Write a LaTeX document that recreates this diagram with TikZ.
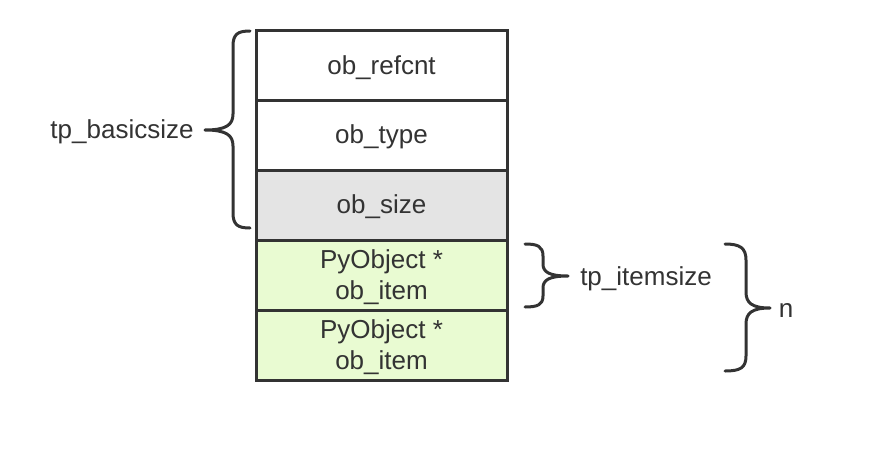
\documentclass[tikz,border=0pt]{standalone}
\usepackage{fontspec}
\setmainfont{Liberation Sans}
\definecolor{edge}{HTML}{333333}
\definecolor{grayfill}{HTML}{E4E4E4}
\definecolor{greenfill}{HTML}{E9FBD2}
\definecolor{txt}{HTML}{333333}
\begin{document}
\begin{tikzpicture}[x=1pt,y=-1pt,
  cell/.style={draw=edge,line width=3pt,minimum width=251pt,minimum height=70pt,inner sep=0pt},
  lbl/.style={font=\fontsize{26}{31}\selectfont,text=txt,inner sep=0pt,align=center},
  bracepath/.style={draw=edge,line width=3pt,line cap=round,line join=round}]
\useasboundingbox (0,0) rectangle (876,458);
\node[cell,fill=white] (c1) at (381.5,65) {};
\node[cell,fill=white] (c2) at (381.5,135) {};
\node[cell,fill=grayfill] (c3) at (381.5,205) {};
\node[cell,fill=greenfill] (c4) at (381.5,275) {};
\node[cell,fill=greenfill] (c5) at (381.5,345) {};
\node[lbl] (t1) at ([yshift=-3pt]c1.center) {ob\_refcnt};
\node[lbl] (t2) at ([yshift=-2pt]c2.center) {ob\_type};
\node[lbl] (t3) at ([yshift=-2pt]c3.center) {ob\_size};
\node[lbl] (t4) at ([yshift=-2pt]c4.center) {PyObject *\\ob\_item};
\node[lbl] (t5) at ([yshift=-2pt]c5.center) {PyObject *\\ob\_item};
\node[lbl] (basic) at (122,132) {tp\_basicsize};
\node[lbl] (item) at (646,279) {tp\_itemsize};
\node[lbl] (n) at (786,311) {n};
% left brace
\coordinate (bt) at (250,31);
\coordinate (bb) at (250,228);
\coordinate (btip) at (205,130);
\draw[bracepath] (bt) .. controls (238,31) and (233,34) .. (233,46) -- (233,114)
  .. controls (233,125) and (226,130) .. (btip)
  .. controls (226,130) and (233,135) .. (233,146) -- (233,213)
  .. controls (233,225) and (238,228) .. (bb);
% tp_itemsize brace
\coordinate (it) at (525,244);
\coordinate (ib) at (525,307);
\coordinate (itip) at (568,276);
\draw[bracepath] (it) .. controls (537,244) and (543,246) .. (543,256) -- (543,264)
  .. controls (543,272) and (549,276) .. (itip)
  .. controls (549,276) and (543,280) .. (543,288) -- (543,296)
  .. controls (543,305) and (537,307) .. (ib);
% n brace
\coordinate (nt) at (725,244);
\coordinate (nb) at (725,371);
\coordinate (ntip) at (770,308);
\draw[bracepath] (nt) .. controls (740,244) and (746,248) .. (746,260) -- (746,292)
  .. controls (746,303) and (752,308) .. (ntip)
  .. controls (752,308) and (746,313) .. (746,324) -- (746,356)
  .. controls (746,368) and (740,371) .. (nb);
\end{tikzpicture}
\end{document}
